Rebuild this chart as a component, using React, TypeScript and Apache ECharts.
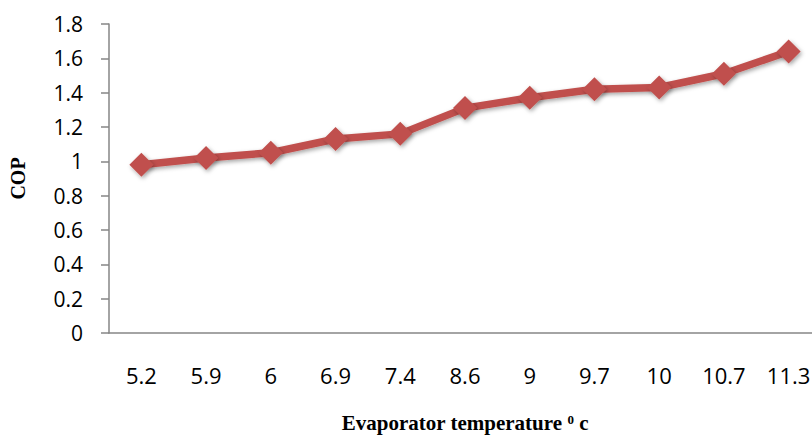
import React, { useEffect, useRef } from "react";
import * as echarts from "echarts";

const categories = ["5.2", "5.9", "6", "6.9", "7.4", "8.6", "9", "9.7", "10", "10.7", "11.3"];
const copValues = [0.98, 1.02, 1.05, 1.13, 1.16, 1.31, 1.37, 1.42, 1.43, 1.51, 1.64];
const yMin = 0;
const yMax = 1.8;
const yStep = 0.2;

export default function App() {
  const ref = useRef<HTMLDivElement>(null);
  useEffect(() => {
    if (!ref.current) return;
    const chart = echarts.init(ref.current, null, { renderer: "svg" });
    const axisGray = "#868686";
    chart.setOption({
      animation: false,
      backgroundColor: "#ffffff",
      grid: {
        left: 109,
        top: 24,
        width: 712,
        height: 309,
        containLabel: false,
        outerBoundsMode: "none",
      },
      xAxis: {
        type: "category",
        data: categories,
        boundaryGap: true,
        axisLine: { lineStyle: { color: axisGray, width: 1.5 } },
        axisTick: { show: false },
        axisLabel: { color: "#000", fontFamily: "Open Sans", fontSize: 22, margin: 31 },
        name: "Evaporator temperature {sup|0} c",
        nameLocation: "middle",
        nameGap: 80,
        nameTextStyle: {
          color: "#000",
          fontFamily: "Liberation Serif",
          fontWeight: "bold",
          fontSize: 21,
          lineHeight: 20,
          rich: {
            sup: {
              fontFamily: "Liberation Serif",
              fontWeight: "bold",
              fontSize: 13,
              lineHeight: 20,
              color: "#000",
              verticalAlign: "top",
              padding: [0, 0, 6, 0],
            },
          },
        },
      },
      yAxis: {
        type: "value",
        min: yMin,
        max: yMax,
        interval: yStep,
        axisLine: { show: true, lineStyle: { color: axisGray, width: 1.5 } },
        axisTick: { show: true, length: 8, inside: false, lineStyle: { color: axisGray, width: 1.5 } },
        splitLine: { show: false },
        axisLabel: { color: "#000", fontFamily: "Open Sans", fontSize: 21, margin: 26 },
        name: "COP",
        nameLocation: "middle",
        nameRotate: 90,
        nameGap: 81,
        nameTextStyle: {
          color: "#000",
          fontFamily: "Liberation Serif",
          fontWeight: "bold",
          fontSize: 20,
        },
      },
      series: [
        {
          type: "line",
          data: copValues,
          symbol: "diamond",
          symbolSize: 24,
          lineStyle: {
            color: "#C0504D",
            width: 7.5,
            shadowColor: "rgba(0,0,0,0.35)",
            shadowBlur: 4,
            shadowOffsetX: 1.5,
            shadowOffsetY: 2,
          },
          itemStyle: {
            color: "#C0504D",
            shadowColor: "rgba(0,0,0,0.35)",
            shadowBlur: 4,
            shadowOffsetX: 1.5,
            shadowOffsetY: 2,
          },
        },
      ],
    });
    return () => chart.dispose();
  }, []);
  return (
    <div
      ref={ref}
      style={{ position: "absolute", left: 0, top: 0, width: 812, height: 435, overflow: "hidden" }}
    />
  );
}
